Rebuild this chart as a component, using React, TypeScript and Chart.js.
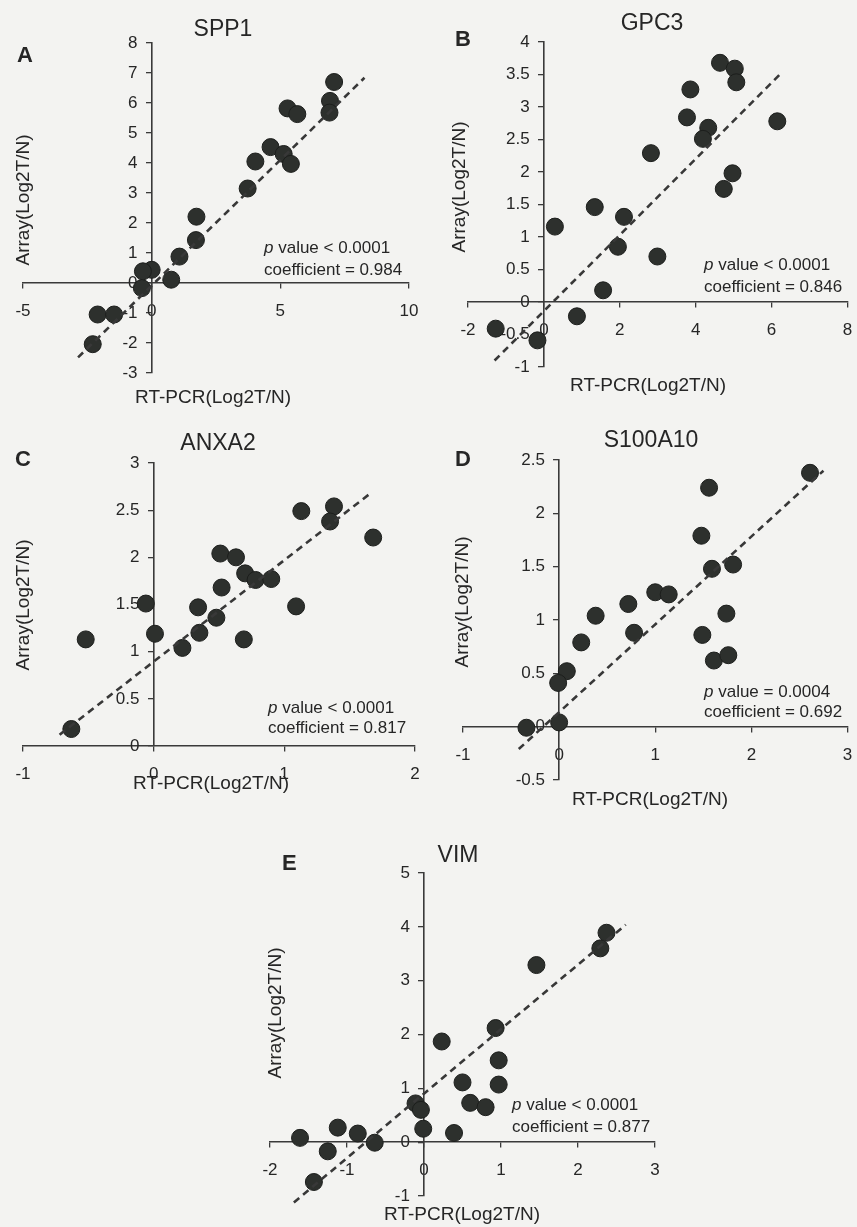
import React, { useEffect, useRef } from "react";
import { Chart, registerables } from "chart.js";

Chart.register(...registerables);

const FONT = '"Liberation Sans", Arial, Helvetica, sans-serif';
const PAGE_W = 857;
const PAGE_H = 1227;
const TEXT_COLOR = "#262626";
const AXIS_COLOR = "#3a3a3a";
const X_TITLE = "RT-PCR(Log2T/N)";
const Y_TITLE = "Array(Log2T/N)";
const Y_TICK_GAP = "   ";

// ---- A: SPP1 ----
const spp1RtPcr = [7.09, 6.93, 6.91, 5.28, 5.66, 4.62, 5.13, 5.41, 4.03, 3.73, 1.74, 1.72, 1.08, 0.76, 0.0, -0.34, -0.38, -2.1, -1.46, -2.29];
const spp1Array = [6.7, 6.07, 5.68, 5.82, 5.63, 4.53, 4.3, 3.97, 4.05, 3.15, 2.21, 1.43, 0.88, 0.11, 0.44, 0.39, -0.17, -1.05, -1.05, -2.04];
const spp1FitX = [-2.86, 8.27];
const spp1FitY = [-2.48, 6.84];
const spp1XTicks = [-5, 10, 5];
const spp1YTicks = [-3, 8, 1];

// ---- B: GPC3 ----
const gpc3RtPcr = [4.64, 5.03, 5.07, 3.86, 6.15, 3.77, 4.33, 4.19, 2.82, 4.97, 4.74, 1.34, 2.11, 0.29, 1.95, 2.99, 1.56, 0.87, -1.27, -0.17];
const gpc3Array = [3.68, 3.59, 3.38, 3.27, 2.78, 2.84, 2.68, 2.51, 2.29, 1.98, 1.74, 1.46, 1.31, 1.16, 0.85, 0.7, 0.18, -0.22, -0.41, -0.59];
const gpc3FitX = [-1.3, 6.2];
const gpc3FitY = [-0.9, 3.49];
const gpc3XTicks = [-2, 8, 2];
const gpc3YTicks = [-1, 4, 0.5];

// ---- C: ANXA2 ----
const anxa2RtPcr = [1.38, 1.35, 1.13, 1.68, 0.51, 0.63, 0.7, 0.78, 0.9, 0.52, -0.06, 0.34, 1.09, 0.48, 0.35, 0.01, -0.52, 0.69, 0.22, -0.63];
const anxa2Array = [2.54, 2.38, 2.49, 2.21, 2.04, 2.0, 1.83, 1.76, 1.77, 1.68, 1.51, 1.47, 1.48, 1.36, 1.2, 1.19, 1.13, 1.13, 1.04, 0.18];
const anxa2FitX = [-0.72, 1.66];
const anxa2FitY = [0.12, 2.68];
const anxa2XTicks = [-1, 2, 1];
const anxa2YTicks = [0, 3, 0.5];

// ---- D: S100A10 ----
const s100RtPcr = [2.61, 1.56, 1.48, 1.59, 1.81, 1.0, 1.14, 0.72, 0.38, 0.78, 1.74, 1.49, 1.61, 1.76, 0.23, 0.08, -0.01, 0.0, -0.34];
const s100Array = [2.38, 2.24, 1.79, 1.48, 1.52, 1.26, 1.24, 1.15, 1.04, 0.88, 1.06, 0.86, 0.62, 0.67, 0.79, 0.52, 0.41, 0.04, -0.01];
const s100FitX = [-0.42, 2.75];
const s100FitY = [-0.21, 2.4];
const s100XTicks = [-1, 3, 1];
const s100YTicks = [-0.5, 2.5, 0.5];

// ---- E: VIM ----
const vimRtPcr = [2.37, 2.29, 1.46, 0.93, 0.23, 0.97, 0.97, 0.5, 0.6, 0.8, -0.11, -0.04, -0.01, 0.39, -1.12, -0.86, -0.64, -1.61, -1.25, -1.43];
const vimArray = [3.89, 3.6, 3.29, 2.12, 1.87, 1.52, 1.07, 1.11, 0.73, 0.65, 0.72, 0.6, 0.25, 0.17, 0.27, 0.16, -0.01, 0.08, -0.17, -0.74];
const vimFitX = [-1.69, 2.62];
const vimFitY = [-1.12, 4.04];
const vimXTicks = [-2, 3, 1];
const vimYTicks = [-1, 5, 1];

type PanelDef = {
  letter: string;
  gene: string;
  pText: string;
  coef: string;
  xs: number[];
  ys: number[];
  fitX: number[];
  fitY: number[];
  xTicks: number[];
  yTicks: number[];
  area: [number, number, number, number]; // left, top, right, bottom (page px)
  letterPos: [number, number];
  titlePos: [number, number];
  yTitlePos: [number, number];
  xTitlePos: [number, number];
  notePos: [number, number, number];
};

const panels: PanelDef[] = [
  {
    letter: "A", gene: "SPP1", pText: "< 0.0001", coef: "0.984",
    xs: spp1RtPcr, ys: spp1Array, fitX: spp1FitX, fitY: spp1FitY,
    xTicks: spp1XTicks, yTicks: spp1YTicks,
    area: [23, 43, 409, 373],
    letterPos: [17, 56], titlePos: [223, 30], yTitlePos: [24, 200], xTitlePos: [213, 398],
    notePos: [264, 248, 270],
  },
  {
    letter: "B", gene: "GPC3", pText: "< 0.0001", coef: "0.846",
    xs: gpc3RtPcr, ys: gpc3Array, fitX: gpc3FitX, fitY: gpc3FitY,
    xTicks: gpc3XTicks, yTicks: gpc3YTicks,
    area: [468, 42, 853, 367],
    letterPos: [455, 40], titlePos: [652, 24], yTitlePos: [460, 187], xTitlePos: [648, 386],
    notePos: [704, 265, 287],
  },
  {
    letter: "C", gene: "ANXA2", pText: "< 0.0001", coef: "0.817",
    xs: anxa2RtPcr, ys: anxa2Array, fitX: anxa2FitX, fitY: anxa2FitY,
    xTicks: anxa2XTicks, yTicks: anxa2YTicks,
    area: [23, 463, 415, 746],
    letterPos: [15, 460], titlePos: [218, 444], yTitlePos: [24, 605], xTitlePos: [211, 784],
    notePos: [268, 708, 728],
  },
  {
    letter: "D", gene: "S100A10", pText: "= 0.0004", coef: "0.692",
    xs: s100RtPcr, ys: s100Array, fitX: s100FitX, fitY: s100FitY,
    xTicks: s100XTicks, yTicks: s100YTicks,
    area: [463, 460, 849, 780],
    letterPos: [455, 460], titlePos: [651, 441], yTitlePos: [463, 602], xTitlePos: [650, 800],
    notePos: [704, 692, 712],
  },
  {
    letter: "E", gene: "VIM", pText: "< 0.0001", coef: "0.877",
    xs: vimRtPcr, ys: vimArray, fitX: vimFitX, fitY: vimFitY,
    xTicks: vimXTicks, yTicks: vimYTicks,
    area: [270, 873, 655, 1196],
    letterPos: [282, 864], titlePos: [458, 856], yTitlePos: [276, 1013], xTitlePos: [462, 1215],
    notePos: [512, 1105, 1127],
  },
];

function textPlugin(p: PanelDef) {
  return {
    id: "panelText" + p.letter,
    afterDraw(chart: any) {
      const ctx: CanvasRenderingContext2D = chart.ctx;
      ctx.save();
      ctx.fillStyle = TEXT_COLOR;
      ctx.textBaseline = "middle";
      ctx.textAlign = "left";
      ctx.font = `bold 22px ${FONT}`;
      ctx.fillText(p.letter, p.letterPos[0], p.letterPos[1]);
      ctx.textAlign = "center";
      ctx.font = `23px ${FONT}`;
      ctx.fillText(p.gene, p.titlePos[0], p.titlePos[1]);
      ctx.font = `19px ${FONT}`;
      ctx.fillText(X_TITLE, p.xTitlePos[0], p.xTitlePos[1]);
      ctx.save();
      ctx.translate(p.yTitlePos[0], p.yTitlePos[1]);
      ctx.rotate(-Math.PI / 2);
      ctx.fillText(Y_TITLE, 0, 0);
      ctx.restore();
      ctx.textAlign = "left";
      ctx.font = `italic 17px ${FONT}`;
      ctx.fillText("p", p.notePos[0], p.notePos[1]);
      const w = ctx.measureText("p").width;
      ctx.font = `17px ${FONT}`;
      ctx.fillText(" value " + p.pText, p.notePos[0] + w, p.notePos[1]);
      ctx.fillText("coefficient = " + p.coef, p.notePos[0], p.notePos[2]);
      ctx.restore();
    },
  };
}

function zeroFit(scale: any) {
  if (scale.isHorizontal()) scale.height = 0;
  else scale.width = 0;
  scale.paddingLeft = 0;
  scale.paddingRight = 0;
  scale.paddingTop = 0;
  scale.paddingBottom = 0;
}

function Panel({ def }: { def: PanelDef }) {
  const ref = useRef<HTMLCanvasElement>(null);
  useEffect(() => {
    const canvas = ref.current;
    if (!canvas) return;
    const [l, t, r, b] = def.area;
    const tickFont = { family: FONT, size: 17 };
    const chart = new Chart(canvas, {
      type: "scatter",
      data: {
        datasets: [
          {
            type: "line",
            data: def.fitX.map((x, i) => ({ x, y: def.fitY[i] })),
            borderColor: "#383838",
            borderWidth: 2.6,
            borderDash: [7, 5],
            pointRadius: 0,
            fill: false,
            order: 0,
            clip: false,
          } as any,
          {
            type: "scatter",
            data: def.xs.map((x, i) => ({ x, y: def.ys[i] })),
            backgroundColor: "#2d302d",
            borderColor: "#1c1e1c",
            borderWidth: 1,
            pointRadius: 8.5,
            order: 1,
            clip: false,
          } as any,
        ],
      },
      options: {
        responsive: false,
        animation: false,
        layout: { padding: { left: l, top: t, right: PAGE_W - r, bottom: PAGE_H - b } },
        plugins: { legend: { display: false }, tooltip: { enabled: false } },
        scales: {
          x: {
            type: "linear",
            min: def.xTicks[0],
            max: def.xTicks[1],
            position: { y: 0 } as any,
            afterFit: zeroFit,
            ticks: {
              stepSize: def.xTicks[2],
              font: tickFont,
              color: TEXT_COLOR,
              padding: 13,
              maxRotation: 0,
              autoSkip: false,
              callback: (v: any) => String(v),
            },
            grid: { drawOnChartArea: false, drawTicks: true, tickLength: 5, color: AXIS_COLOR, lineWidth: 1.3 },
            border: { display: true, color: AXIS_COLOR, width: 1.6 },
          },
          y: {
            type: "linear",
            min: def.yTicks[0],
            max: def.yTicks[1],
            position: { x: 0 } as any,
            afterFit: zeroFit,
            ticks: {
              stepSize: def.yTicks[2],
              font: tickFont,
              color: TEXT_COLOR,
              padding: 9,
              autoSkip: false,
              callback: (v: any) => String(v) + Y_TICK_GAP,
            },
            grid: { drawOnChartArea: false, drawTicks: true, tickLength: 5, color: AXIS_COLOR, lineWidth: 1.3 },
            border: { display: true, color: AXIS_COLOR, width: 1.6 },
          },
        },
      } as any,
      plugins: [textPlugin(def)],
    });
    // correct chart area to match target exactly
    const ca = chart.chartArea;
    const pad: any = (chart.options.layout as any).padding;
    const dl = l - ca.left, dt = t - ca.top, dr = ca.right - r, db = ca.bottom - b;
    if (Math.abs(dl) + Math.abs(dt) + Math.abs(dr) + Math.abs(db) > 0.5) {
      pad.left += dl;
      pad.top += dt;
      pad.right += dr;
      pad.bottom += db;
      chart.update();
    }
    return () => chart.destroy();
  }, [def]);
  return (
    <canvas
      ref={ref}
      width={PAGE_W}
      height={PAGE_H}
      style={{ position: "absolute", left: 0, top: 0, width: PAGE_W, height: PAGE_H }}
    />
  );
}

export default function App() {
  return (
    <div
      style={{
        position: "absolute",
        left: 0,
        top: 0,
        width: PAGE_W,
        height: PAGE_H,
        background: "#f3f3f1",
        overflow: "hidden",
      }}
    >
      {panels.map((p) => (
        <Panel key={p.letter} def={p} />
      ))}
    </div>
  );
}
